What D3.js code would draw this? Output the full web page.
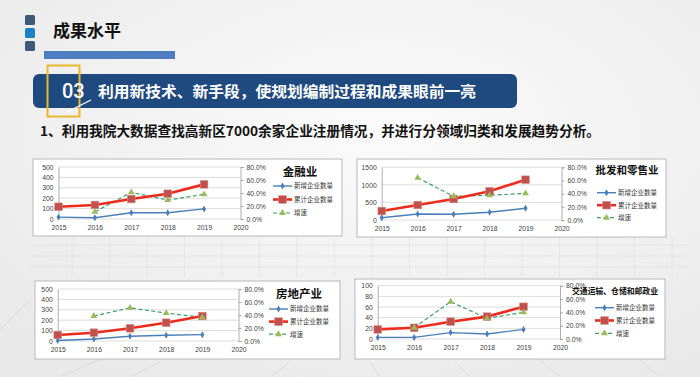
<!DOCTYPE html>
<html>
<head>
<meta charset="utf-8">
<script src="https://cdn.jsdelivr.net/npm/d3@7"></script>
<style>
  body { margin: 0; background: #f2f2f2; }
  svg { display: block; font-family: "Noto Sans CJK SC", "Noto Sans", sans-serif; }
</style>
</head>
<body>
<div class="canvas"></div>
<script>
// data
const years = [2015, 2016, 2017, 2018, 2019];
const growthYears = [2016, 2017, 2018, 2019];
const seriesNames = ['新增企业数量', '累计企业数量', '增速'];

const financeNew = [18, 12, 60, 60, 97];
const financeTotal = [118, 135, 192, 243, 333];
const financeGrowth = [0.11, 0.41, 0.29, 0.38];

const retailNew = [65, 171, 162, 219, 333];
const retailTotal = [256, 427, 598, 817, 1147];
const retailGrowth = [0.64, 0.36, 0.375, 0.405];

const estateNew = [5, 19, 45, 55, 61];
const estateTotal = [58, 80, 122, 176, 240];
const estateGrowth = [0.385, 0.51, 0.43, 0.365];

const transportNew = [3, 3, 12, 9.5, 18];
const transportTotal = [18, 21, 32.5, 42, 60.5];
const transportGrowth = [0.17, 0.56, 0.31, 0.40];

const leftTicks1 = [0, 100, 200, 300, 400, 500];
const leftTicks2 = [0, 500, 1000, 1500];
const leftTicks4 = [0, 20, 40, 60, 80, 100];
const rightTicks = [0, 0.2, 0.4, 0.6, 0.8];
const xTicks = [2015, 2016, 2017, 2018, 2019, 2020];

const svg = d3.select('.canvas')
    .append('svg')
    .attr('width', 700)
    .attr('height', 377);

// background
const defs = svg.append('defs');
const bg = defs.append('radialGradient').attr('id', 'bg')
    .attr('cx', '55%').attr('cy', '35%').attr('r', '75%');
bg.append('stop').attr('offset', '0%').attr('stop-color', '#fbfbfb');
bg.append('stop').attr('offset', '100%').attr('stop-color', '#e9e9e9');
svg.append('rect').attr('width', 700).attr('height', 377).attr('fill', 'url(#bg)');

// faint spreadsheet cells behind the charts
const cells = svg.append('g').attr('stroke', '#e2e2e2').attr('stroke-width', 0.8);
[245, 256, 267].forEach(y => cells.append('line').attr('x1', 30).attr('x2', 690).attr('y1', y).attr('y2', y));
d3.range(0, 18).forEach(i => {
    cells.append('line').attr('x1', 72 + i * 37.5).attr('x2', 72 + i * 37.5).attr('y1', 238).attr('y2', 278);
});
// perspective floor lines
const floor = svg.append('g').attr('stroke', '#dcdcdc').attr('stroke-width', 0.8);
[[0, 330, 30, 300], [60, 377, 110, 355], [130, 377, 160, 362], [270, 377, 290, 362],
 [380, 377, 370, 362], [470, 377, 455, 362], [560, 377, 540, 360], [660, 377, 640, 360]]
    .forEach(d => floor.append('line').attr('x1', d[0]).attr('y1', d[1]).attr('x2', d[2]).attr('y2', d[3]));

// header
[['#3f5a78', 15], ['#1b80c4', 28], ['#3f5a78', 41]].forEach(d => {
    svg.append('rect').attr('x', 25).attr('y', d[1]).attr('width', 10).attr('height', 10)
        .attr('rx', 1.5).attr('fill', d[0]);
});
svg.append('text').attr('x', 53).attr('y', 37)
    .attr('font-size', 17).attr('font-weight', 'bold').attr('fill', '#111')
    .text('成果水平');
svg.append('rect').attr('x', 44).attr('y', 51).attr('width', 131).attr('height', 8).attr('fill', '#4d7fc0');

svg.append('rect').attr('x', 33).attr('y', 74).attr('width', 484).attr('height', 34)
    .attr('rx', 6).attr('fill', '#1f4a80');
svg.append('rect').attr('x', 47.5).attr('y', 65.5).attr('width', 32).attr('height', 51)
    .attr('fill', 'none').attr('stroke', '#e9b72f').attr('stroke-width', 2);
svg.append('line').attr('x1', 67).attr('y1', 112).attr('x2', 91).attr('y2', 100)
    .attr('stroke', '#fff').attr('stroke-width', 1.3);
svg.append('text').attr('x', 62).attr('y', 98)
    .attr('font-size', 20).attr('font-weight', 500).attr('fill', '#fff')
    .attr('font-family', 'Roboto, "Noto Sans", sans-serif')
    .text('03');
svg.append('text').attr('x', 98).attr('y', 97)
    .attr('font-size', 15).attr('font-weight', 'bold').attr('fill', '#fff')
    .attr('textLength', 378).attr('lengthAdjust', 'spacingAndGlyphs')
    .text('利用新技术、新手段，使规划编制过程和成果眼前一亮');

svg.append('text').attr('x', 40).attr('y', 136)
    .attr('font-size', 13.5).attr('font-weight', 'bold').attr('fill', '#111')
    .attr('textLength', 560).attr('lengthAdjust', 'spacingAndGlyphs')
    .text('1、利用我院大数据查找高新区7000余家企业注册情况，并进行分领域归类和发展趋势分析。');

// chart panels
const panels = [
    { title: '金融业', newV: financeNew, totalV: financeTotal, growth: financeGrowth, ticks: leftTicks1,
      box: [33, 159, 309, 77], plot: [58.5, 240.5, 167, 219], legend: [273, 186, 13.5], titlePos: [300, 176, 11.5] },
    { title: '批发和零售业', newV: retailNew, totalV: retailTotal, growth: retailGrowth, ticks: leftTicks2,
      box: [357, 159, 309, 78], plot: [381.7, 561.5, 167.3, 220], legend: [597, 192.7, 12.5], titlePos: [627, 174, 10.5] },
    { title: '房地产业', newV: estateNew, totalV: estateTotal, growth: estateGrowth, ticks: leftTicks1,
      box: [35, 281, 305, 78], plot: [57.7, 238.5, 289, 341], legend: [269, 309, 12.6], titlePos: [299, 298, 11.5] },
    { title: '交通运输、仓储和邮政业', newV: transportNew, totalV: transportTotal, growth: transportGrowth, ticks: leftTicks4,
      box: [355, 279, 310, 80], plot: [377.7, 560, 285.7, 339], legend: [595, 307.7, 12.8], titlePos: [572, 294, 8.5], fit: 86 }
];

const blue = '#4a7ebb', red = '#ee2a1c', redMark = '#c0504d', green = '#3a9f6a', greenMark = '#9bbb59';

function marker(g, type, x, y) {
    if (type === 'diamond') {
        g.append('path').attr('d', d3.symbol(d3.symbolDiamond, 14)())
            .attr('transform', `translate(${x},${y})`).attr('fill', blue);
    } else if (type === 'square') {
        g.append('rect').attr('x', x - 3.8).attr('y', y - 3.8).attr('width', 7.6).attr('height', 7.6)
            .attr('fill', redMark).attr('stroke', '#d9877f').attr('stroke-width', 0.6);
    } else {
        g.append('path').attr('d', d3.symbol(d3.symbolTriangle, 20)())
            .attr('transform', `translate(${x},${y})`).attr('fill', greenMark);
    }
}

panels.forEach(p => {
    const g = svg.append('g');
    g.append('rect').attr('x', p.box[0]).attr('y', p.box[1]).attr('width', p.box[2]).attr('height', p.box[3])
        .attr('fill', '#fff').attr('stroke', '#b8b8b8').attr('stroke-width', 1);

    const [left, right, top, bottom] = p.plot;
    const x = d3.scaleLinear().domain([2015, 2020]).range([left, right]);
    const y = d3.scaleLinear().domain([0, d3.max(p.ticks)]).range([bottom, top]);
    const yr = d3.scaleLinear().domain([0, 0.8]).range([bottom, top]);

    // grid lines
    g.append('g').selectAll('line').data(p.ticks).enter().append('line')
        .attr('x1', left).attr('x2', right)
        .attr('y1', d => y(d)).attr('y2', d => y(d))
        .attr('stroke', '#d4d4d4').attr('stroke-width', 0.8);

    // axes
    const yAxis = d3.axisLeft(y).tickValues(p.ticks).tickSize(0).tickPadding(5).tickFormat(d3.format('d'));
    const yAxisR = d3.axisRight(yr).tickValues(rightTicks).tickSize(3).tickPadding(3)
        .tickFormat(d3.format('.1%'));
    const xAxis = d3.axisBottom(x).tickValues(xTicks).tickSize(0).tickPadding(6).tickFormat(d3.format('d'));

    const axes = [
        g.append('g').attr('transform', `translate(${left},0)`).call(yAxis),
        g.append('g').attr('transform', `translate(${right},0)`).call(yAxisR),
        g.append('g').attr('transform', `translate(0,${bottom})`).call(xAxis)
    ];
    axes.forEach(a => {
        a.selectAll('text').attr('font-size', 6.8).attr('fill', '#404040')
            .attr('font-family', '"Liberation Sans", Arial, sans-serif');
        a.selectAll('path, line').attr('stroke', '#9a9a9a').attr('stroke-width', 0.8);
    });
    axes[2].select('path').remove();

    // new companies
    const line = d3.line().x((d, i) => x(years[i])).y(d => y(d));
    g.append('path').datum(p.newV).attr('d', line)
        .attr('fill', 'none').attr('stroke', blue).attr('stroke-width', 1.4);
    p.newV.forEach((d, i) => marker(g, 'diamond', x(years[i]), y(d)));

    // growth rate (right axis)
    const gLine = d3.line().x((d, i) => x(growthYears[i])).y(d => yr(d));
    g.append('path').datum(p.growth).attr('d', gLine)
        .attr('fill', 'none').attr('stroke', green).attr('stroke-width', 1.2)
        .attr('stroke-dasharray', '4,2.5');

    // cumulative
    g.append('path').datum(p.totalV).attr('d', line)
        .attr('fill', 'none').attr('stroke', red).attr('stroke-width', 2.6);
    p.totalV.forEach((d, i) => marker(g, 'square', x(years[i]), y(d)));
    p.growth.forEach((d, i) => marker(g, 'triangle', x(growthYears[i]), yr(d)));

    // legend
    const title = g.append('text').attr('x', p.titlePos[0]).attr('y', p.titlePos[1])
        .attr('text-anchor', p.fit ? 'start' : 'middle')
        .attr('font-size', p.titlePos[2]).attr('font-weight', 'bold').attr('fill', '#111')
        .text(p.title);
    if (p.fit) title.attr('textLength', p.fit).attr('lengthAdjust', 'spacingAndGlyphs');

    const [lx, ly, step] = p.legend;
    const styles = [
        { c: blue, w: 1.4, dash: null, m: 'diamond' },
        { c: red, w: 2.6, dash: null, m: 'square' },
        { c: green, w: 1.2, dash: '4,2.5', m: 'triangle' }
    ];
    seriesNames.forEach((name, i) => {
        const yy = ly + i * step;
        g.append('line').attr('x1', lx).attr('x2', lx + 19).attr('y1', yy).attr('y2', yy)
            .attr('stroke', styles[i].c).attr('stroke-width', styles[i].w)
            .attr('stroke-dasharray', styles[i].dash);
        marker(g, styles[i].m, lx + 9.5, yy);
        g.append('text').attr('x', lx + 21).attr('y', yy + 2.4)
            .attr('font-size', 6.5).attr('fill', '#333').text(name);
    });
});
</script>
</body>
</html>
